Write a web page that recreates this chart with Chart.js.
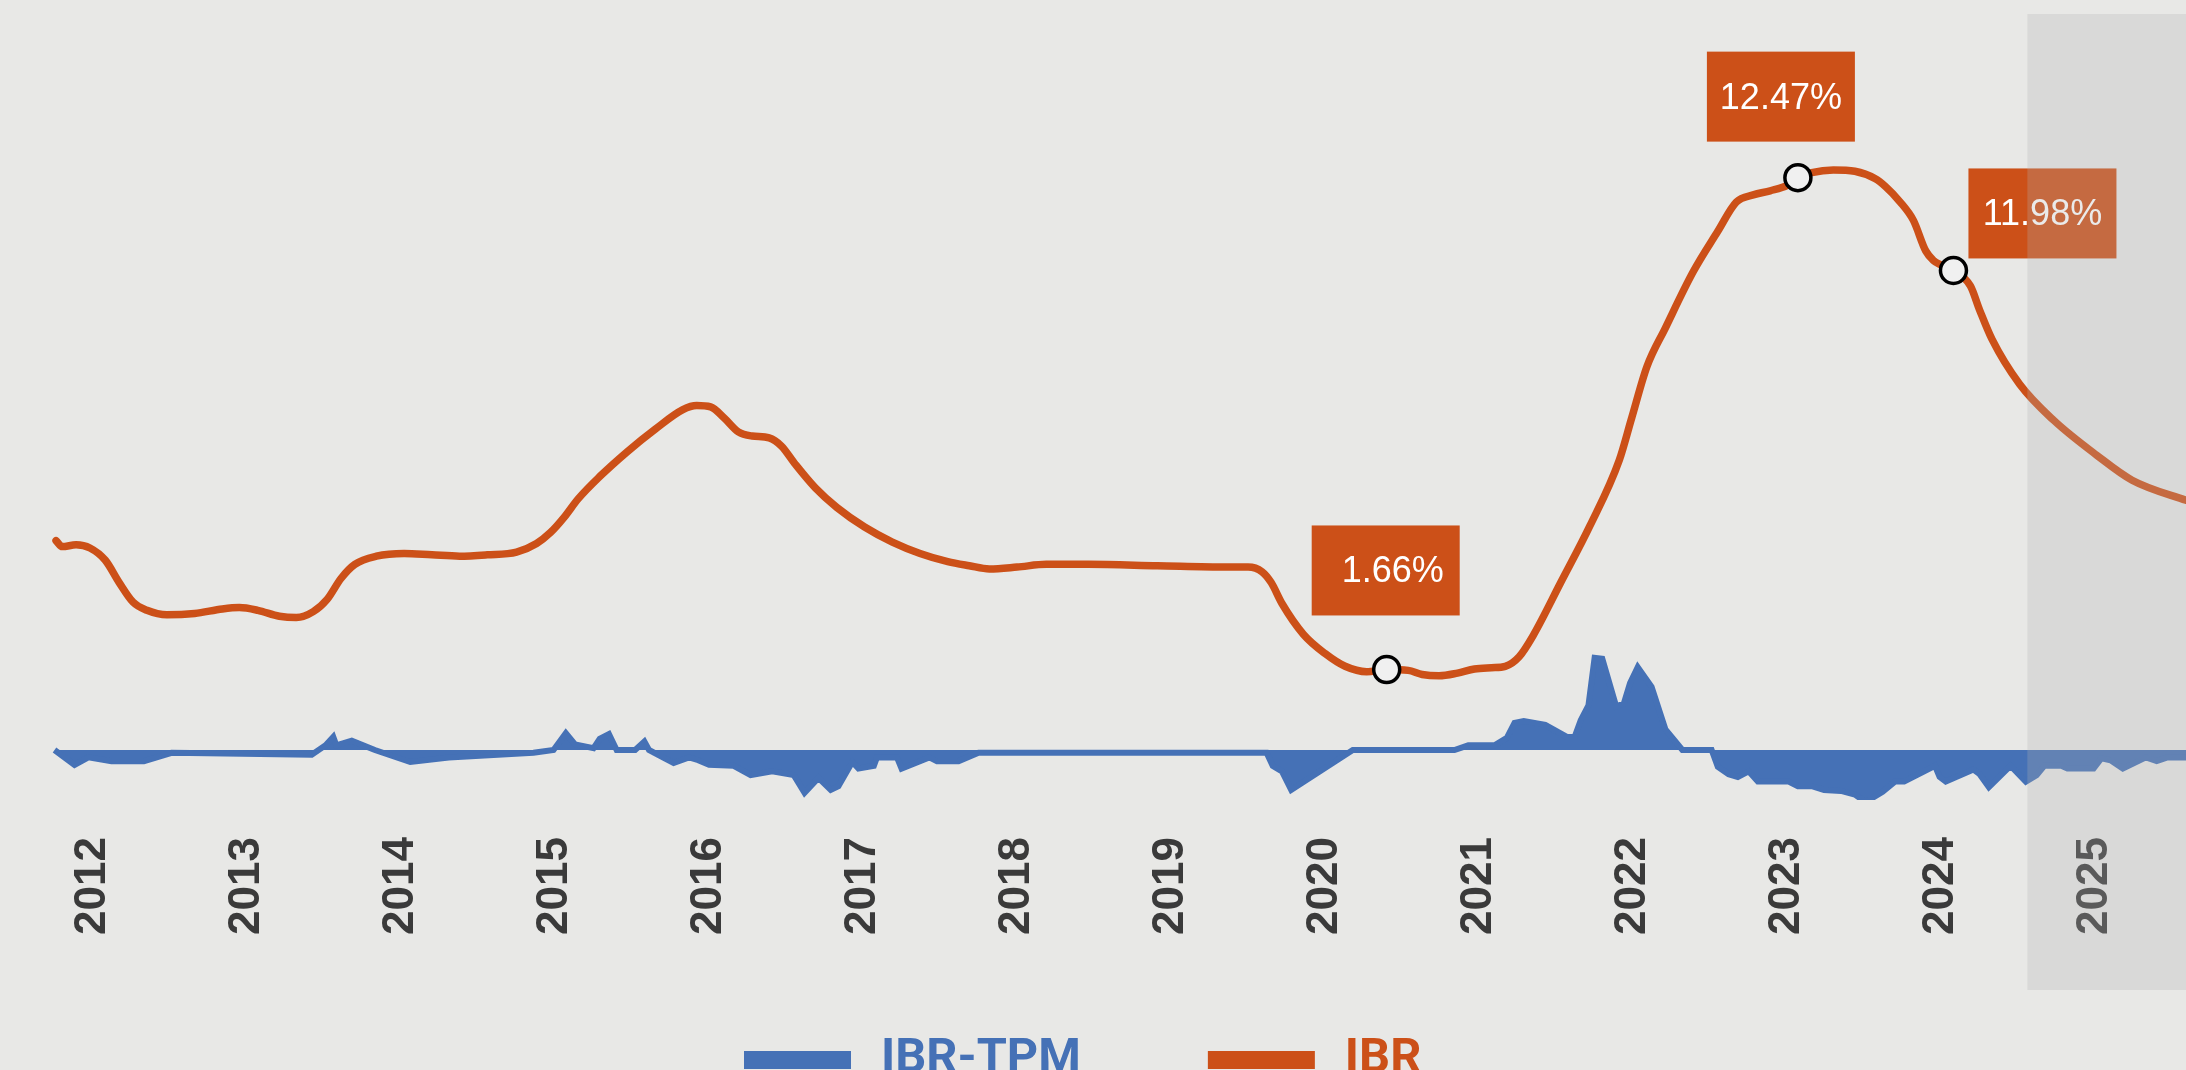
<!DOCTYPE html>
<html>
<head>
<meta charset="utf-8">
<script src="https://cdn.jsdelivr.net/npm/chart.js@4.4.1/dist/chart.umd.min.js"></script>
<style>
  html, body { margin: 0; padding: 0; background: #e8e8e6; overflow: hidden; }
  #wrap { width: 2186px; height: 1070px; position: relative; }
</style>
</head>
<body>
<div id="wrap"><canvas id="chart"></canvas></div>
<script>
// tick labels (one per year)
const years = ['2012','2013','2014','2015','2016','2017','2018','2019','2020','2021','2022','2023','2024','2025'];

// IBR (orange line), decimal year -> value
const ibrDates = [2012.26, 2012.30, 2012.39, 2012.48, 2012.58, 2012.67, 2012.76, 2012.85, 2012.98, 2013.16,
  2013.34, 2013.45, 2013.57, 2013.71, 2013.82, 2013.93, 2014.02, 2014.11, 2014.20, 2014.34,
  2014.52, 2014.70, 2014.88, 2015.06, 2015.25, 2015.38, 2015.47, 2015.56, 2015.65, 2015.79,
  2015.97, 2016.15, 2016.33, 2016.42, 2016.51, 2016.60, 2016.69, 2016.78, 2016.89, 2016.97,
  2017.06, 2017.19, 2017.33, 2017.51, 2017.69, 2017.87, 2018.05, 2018.19, 2018.32, 2018.50,
  2018.69, 2018.96, 2019.41, 2019.86, 2020.00, 2020.09, 2020.15, 2020.22, 2020.36, 2020.50,
  2020.63, 2020.77, 2020.90, 2021.04, 2021.13, 2021.24, 2021.36, 2021.47, 2021.58, 2021.67,
  2021.76, 2021.85, 2022.03, 2022.22, 2022.41, 2022.49, 2022.59, 2022.71, 2022.89, 2023.05,
  2023.17, 2023.28, 2023.39, 2023.50, 2023.57, 2023.66, 2023.80, 2023.94, 2024.07, 2024.14,
  2024.23, 2024.32, 2024.40, 2024.45, 2024.50, 2024.58, 2024.69, 2024.75, 2024.83, 2025.01,
  2025.23, 2025.51, 2025.74, 2026.09, 2026.30];
const ibrValues = [4.49, 4.36, 4.40, 4.33, 4.06, 3.57, 3.14, 2.96, 2.86, 2.89,
  2.99, 3.02, 2.96, 2.83, 2.80, 2.93, 3.20, 3.66, 3.97, 4.15,
  4.21, 4.18, 4.15, 4.18, 4.24, 4.43, 4.67, 5.01, 5.41, 5.90,
  6.45, 6.94, 7.37, 7.46, 7.43, 7.18, 6.88, 6.79, 6.75, 6.57,
  6.17, 5.65, 5.22, 4.79, 4.46, 4.21, 4.03, 3.94, 3.87, 3.91,
  3.97, 3.97, 3.94, 3.91, 3.91, 3.81, 3.57, 3.11, 2.43, 2.01,
  1.73, 1.61, 1.66, 1.64, 1.55, 1.52, 1.58, 1.67, 1.70, 1.73,
  1.94, 2.40, 3.57, 4.82, 6.26, 7.18, 8.32, 9.17, 10.40, 11.29,
  11.93, 12.09, 12.18, 12.30, 12.47, 12.58, 12.64, 12.61, 12.45, 12.27,
  11.95, 11.53, 10.86, 10.65, 10.55, 10.43, 10.09, 9.56, 8.92, 7.93,
  7.14, 6.37, 5.82, 5.38, 5.15];

// IBR-TPM spread (blue area)
const spreadDates = [2012.25, 2012.38, 2012.47, 2012.62, 2012.83, 2013.01, 2013.92, 2014.01, 2014.06, 2014.08,
  2014.18, 2014.33, 2014.56, 2014.81, 2015.36, 2015.49, 2015.57, 2015.63, 2015.75, 2015.79,
  2015.85, 2015.90, 2016.02, 2016.08, 2016.11, 2016.20, 2016.27, 2016.37, 2016.43, 2016.50,
  2016.66, 2016.77, 2016.91, 2017.05, 2017.12, 2017.21, 2017.29, 2017.34, 2017.43, 2017.47,
  2017.57, 2017.59, 2017.72, 2017.75, 2017.93, 2017.98, 2018.12, 2018.25, 2020.12, 2020.16,
  2020.22, 2020.28, 2020.68, 2021.34, 2021.43, 2021.60, 2021.68, 2021.73, 2021.79, 2021.93,
  2022.07, 2022.12, 2022.16, 2022.21, 2022.25, 2022.30, 2022.39, 2022.44, 2022.48, 2022.53,
  2022.62, 2022.71, 2022.82, 2023.01, 2023.05, 2023.12, 2023.18, 2023.25, 2023.31, 2023.51,
  2023.57, 2023.66, 2023.74, 2023.85, 2023.94, 2024.01, 2024.12, 2024.20, 2024.26, 2024.46,
  2024.49, 2024.53, 2024.71, 2024.75, 2024.81, 2024.95, 2025.05, 2025.12, 2025.17, 2025.28,
  2025.32, 2025.49, 2025.54, 2025.60, 2025.68, 2025.83, 2025.90, 2025.97, 2026.09, 2026.20];
const spreadValues = [0, -0.16, -0.08, -0.12, -0.12, -0.03, -0.05, 0.05, 0.14, 0.05,
  0.10, 0, -0.13, -0.08, -0.03, 0, 0.18, 0.06, 0.02, 0.12,
  0.17, 0, 0, 0.09, 0, -0.08, -0.14, -0.08, -0.11, -0.16,
  -0.17, -0.27, -0.23, -0.27, -0.46, -0.30, -0.43, -0.39, -0.13, -0.20,
  -0.17, -0.08, -0.08, -0.20, -0.08, -0.12, -0.12, -0.03, -0.03, -0.17,
  -0.23, -0.43, 0, 0, 0.05, 0.05, 0.13, 0.29, 0.31, 0.27,
  0.14, 0.14, 0.32, 0.48, 0.99, 0.98, 0.47, 0.50, 0.72, 0.89,
  0.68, 0.22, 0, 0, -0.18, -0.26, -0.29, -0.23, -0.34, -0.34,
  -0.39, -0.39, -0.43, -0.44, -0.48, -0.56, -0.45, -0.34, -0.34, -0.17,
  -0.29, -0.34, -0.21, -0.26, -0.40, -0.17, -0.34, -0.27, -0.17, -0.17,
  -0.20, -0.20, -0.09, -0.11, -0.20, -0.08, -0.12, -0.08, -0.08, -0.07];

// highlighted IBR points and their labels
const markedDates = [2020.90, 2023.57, 2024.58];
const markedTexts = ['1.66%', '12.47%', '11.98%'];

// start of the shaded period
const shadeFrom = 2025.06;

const ORANGE = '#cc5018';
const BLUE = '#4571b6';

const ctx = document.getElementById('chart');

let ibrPoints = ibrDates.map((d, i) => ({x: d, y: ibrValues[i]}));
let spreadPoints = spreadDates.map((d, i) => ({x: d, y: spreadValues[i]}));
let radii = ibrDates.map(d => markedDates.includes(d) ? 13 : 0);

// label box placement relative to its point
const boxOffsets = [{dx: -1, dy: -99}, {dx: -17, dy: -81}, {dx: 89, dy: -57}];

const extras = {
    id: 'extras',
    afterDatasetsDraw(chart) {
        const c = chart.ctx;
        const meta = chart.getDatasetMeta(0);
        c.save();
        markedDates.forEach((d, k) => {
            let pt = meta.data[ibrDates.indexOf(d)];
            let cx = pt.x + boxOffsets[k].dx;
            let cy = pt.y + boxOffsets[k].dy;
            c.fillStyle = ORANGE;
            c.fillRect(cx - 74, cy - 45, 148, 90);
            c.fillStyle = '#ffffff';
            c.font = '36px "Liberation Sans", Arial, sans-serif';
            c.textAlign = 'center';
            c.textBaseline = 'middle';
            c.fillText(markedTexts[k], cx + (k === 0 ? 7 : 0), cy + 2);
        });
        c.restore();
    },
    afterDraw(chart) {
        const c = chart.ctx;
        const x = chart.scales.x;
        c.save();
        // shaded period
        let sx = x.getPixelForValue(shadeFrom);
        c.fillStyle = 'rgba(176,176,176,0.27)';
        c.fillRect(sx, 14, chart.width - sx, 976);

        // legend
        let fam = '"Liberation Sans Narrow", "Roboto", sans-serif';
        c.font = 'bold 100px ' + fam;
        let size = 100 * 200 / c.measureText('IBR-TPM').width;
        c.font = 'bold ' + size.toFixed(1) + 'px ' + fam;
        c.textAlign = 'left';
        c.textBaseline = 'alphabetic';
        let items = [chart.data.datasets[1], chart.data.datasets[0]];
        let lx = 744;
        items.forEach(ds => {
            c.fillStyle = ds.borderColor;
            c.fillRect(lx, 1051, 107, 18);
            c.fillText(ds.label, lx + 137, 1037 + size * 0.72);
            lx += 137 + c.measureText(ds.label).width + 127;
        });
        c.restore();
    }
};

let myChart = new Chart(ctx, {
    type: 'line',
    data: {
        datasets: [{
            label: 'IBR',
            data: ibrPoints,
            yAxisID: 'y',
            borderColor: ORANGE,
            borderWidth: 7.5,
            borderCapStyle: 'round',
            cubicInterpolationMode: 'monotone',
            fill: false,
            pointRadius: radii,
            pointBackgroundColor: '#f0f0f0',
            pointBorderColor: '#000000',
            pointBorderWidth: 3.5
        }, {
            label: 'IBR-TPM',
            data: spreadPoints,
            yAxisID: 'y2',
            borderColor: BLUE,
            backgroundColor: BLUE,
            borderWidth: 6,
            tension: 0,
            fill: 'origin',
            pointRadius: 0
        }]
    },
    options: {
        responsive: true,
        maintainAspectRatio: false,
        animation: false,
        devicePixelRatio: 1,
        layout: {padding: 0},
        plugins: {
            legend: {display: false},
            tooltip: {enabled: false}
        },
        scales: {
            x: {
                type: 'linear',
                min: 2011.896,
                max: 2026.09,
                afterBuildTicks: s => { s.ticks = years.map(y => ({value: Number(y) + 0.5})); },
                afterFit: s => { s.height = 270; },
                grid: {display: false, drawTicks: false},
                border: {display: false},
                ticks: {
                    autoSkip: false,
                    minRotation: 90,
                    maxRotation: 90,
                    padding: 37,
                    color: '#3a3a3a',
                    font: {family: '"Liberation Sans", Arial, sans-serif', size: 44, weight: 'bold'},
                    callback: (v, i) => years[i]
                }
            },
            y: {display: false, min: -1.209, max: 16.374},
            y2: {display: false, min: -0.538, max: 8.065}
        }
    },
    plugins: [extras]
});
</script>
</body>
</html>
